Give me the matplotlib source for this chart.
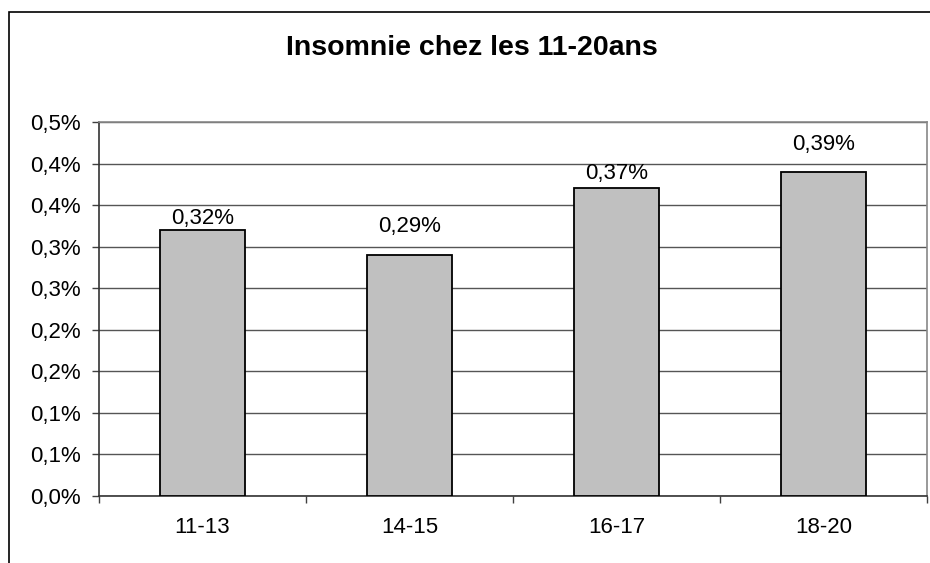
import matplotlib
matplotlib.use("Agg")
import matplotlib.pyplot as plt
import matplotlib.patches as mpatches

plt.rcParams["font.family"] = ["Liberation Sans", "DejaVu Sans"]

# ---------- data ----------
age_groups = ["11-13", "14-15", "16-17", "18-20"]
insomnia_pct = [0.32, 0.29, 0.37, 0.39]
value_labels = ["0,32%", "0,29%", "0,37%", "0,39%"]

y_ticks = [0.0, 0.05, 0.10, 0.15, 0.20, 0.25, 0.30, 0.35, 0.40, 0.45]
y_tick_labels = ["0,0%", "0,1%", "0,1%", "0,2%", "0,2%",
                 "0,3%", "0,3%", "0,4%", "0,4%", "0,5%"]

# label lift above each bar, in pixels
label_lift = [1, 18, 4, 17]

# ---------- figure ----------
W, H = 930, 563
fig = plt.figure(figsize=(W / 100, H / 100), dpi=100)
fig.patch.set_facecolor("white")

# chart frame (open to the right and bottom)
frame = mpatches.Rectangle((9 / W, -0.2), 1.2, (H - 12) / H + 0.2,
                           transform=fig.transFigure, fill=False,
                           edgecolor="black", linewidth=1.2)
fig.add_artist(frame)

ax = fig.add_axes([99 / W, (H - 496) / H, (927 - 99) / W, (496 - 122) / H])

xs = range(len(age_groups))
ax.bar(xs, insomnia_pct, width=0.41, color="#c0c0c0",
       edgecolor="black", linewidth=1.3, zorder=3)

FS = 16
for x, v, lab, lift in zip(xs, insomnia_pct, value_labels, label_lift):
    ax.annotate(lab, (x, v), xytext=(0, lift), textcoords="offset pixels",
                ha="center", va="bottom", fontsize=FS, zorder=4)

ax.set_xlim(-0.5, len(age_groups) - 0.5)
ax.set_ylim(0, 0.45)

ax.set_yticks(y_ticks)
ax.set_yticklabels(y_tick_labels, fontsize=FS)
ax.set_xticks(list(xs))
ax.set_xticklabels(age_groups, fontsize=FS)
ax.tick_params(axis="x", length=0, pad=15)
ax.tick_params(axis="y", length=5, width=1, color="#404040", pad=8)

# category separators on the x axis
ax.set_xticks([i - 0.5 for i in range(len(age_groups) + 1)], minor=True)
ax.tick_params(axis="x", which="minor", length=5, width=1, color="#404040")

ax.grid(axis="y", color="#555555", linewidth=1)
ax.set_axisbelow(True)

for side in ["left", "bottom"]:
    ax.spines[side].set_color("#333333")
    ax.spines[side].set_linewidth(1.2)
for side in ["top", "right"]:
    ax.spines[side].set_color("#888888")
    ax.spines[side].set_linewidth(1.2)

fig.text(472 / W, 1 - 48 / H, "Insomnie chez les 11-20ans",
         ha="center", va="center", fontsize=20.5, fontweight="bold")

fig.savefig("out.png", dpi=100)
